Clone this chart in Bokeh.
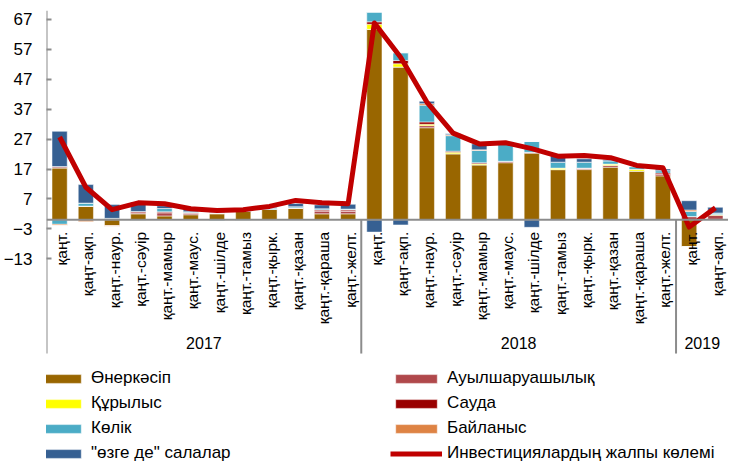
import math
from bokeh.plotting import figure
from bokeh.models import (ColumnDataSource, FactorRange, Range1d, FixedTicker, Span,
                          Legend, LegendItem)
from bokeh.core.properties import value
from bokeh.embed import file_html
from bokeh.resources import INLINE

# ---------------- data ----------------
years = ["2017", "2018", "2019"]
months_full = ["қаңт.", "қаңт-ақп.", "қаңт.-наур.", "қаңт.-сәуір", "қаңт.-мамыр",
               "қаңт.-маус.", "қаңт.-шілде", "қаңт.-тамыз", "қаңт.-қырк.",
               "қаңт.-қазан", "қаңт.-қараша", "қаңт.-желт."]
months_2019 = ["қаңт.", "қаңт-ақп."]

industry     = [17.3, 4.6, -1.9, 2.0, 1.3, 1.7, 2.0, 2.8, 3.5, 3.8, 2.0, 2.0,
                63.7, 51.1, 30.8, 22.1, 18.4, 19.1, 22.3, 16.8, 16.8, 17.6, 16.3, 14.7,
                -9.1, 0.2]
agriculture  = [0.5, 0.0, 0.0, 0.4, 1.1, 0.6, 0.3, 0.0, 0.0, 0.2, 1.0, 0.9,
                0.0, 0.0, 0.7, 0.0, 0.0, 0.5, 0.3, 0.0, 0.5, 0.6, 0.0, 0.5,
                1.1, 1.3]
construction = [0.0, 0.0, 0.0, 0.0, 0.0, 0.0, 0.0, 0.0, 0.0, 0.0, 0.0, 0.0,
                1.7, 1.1, 0.45, 0.5, 0.35, 0.0, 0.0, 0.5, 0.0, 0.45, 0.6, 0.0,
                0.0, 0.3]
trade        = [0.0, 0.0, 0.0, 0.4, 0.3, 0.1, 0.0, 0.0, 0.0, 0.0, 0.3, 0.4,
                0.8, 1.1, 0.8, 0.35, 0.35, 0.0, 0.0, 0.0, 0.0, 0.0, 0.0, 0.45,
                0.0, 0.0]
transport    = [-1.5, 1.0, 0.5, -0.3, 1.1, 0.3, -0.4, -0.3, 0.4, 0.4, 0.4, 0.3,
                3.3, 2.6, 5.6, 5.2, 4.1, 6.7, 3.6, 2.0, 2.0, 1.1, 0.9, 0.8,
                1.7, 0.5]
communication = [-0.4, -0.7, -0.3, 0.0, 0.0, 0.0, 0.0, 0.0, 0.0, 0.0, 0.0, 0.0,
                 0.0, 0.0, 0.5, 0.3, 0.2, 0.0, 0.0, 0.0, 0.0, 0.0, 0.0, 0.0,
                 0.5, 0.0]
other        = [11.8, 6.2, 4.6, 3.2, 0.9, 0.7, 0.2, 0.3, 0.3, 1.1, 1.3, 1.6,
                -4.1, -1.7, 0.8, 0.3, 2.0, 0.0, -2.5, 2.2, 1.1, 0.4, 0.0, 0.55,
                3.1, 1.9]
total        = [27.7, 10.9, 3.4, 5.7, 5.4, 3.7, 3.1, 3.4, 4.5, 6.5, 5.7, 5.4,
                65.8, 54.4, 39.4, 29.0, 25.4, 25.8, 23.8, 21.3, 21.5, 20.8, 18.2, 17.4,
                -2.4, 4.0]

series_names = ["Өнеркәсіп", "Ауылшаруашылық", "Құрылыс", "Сауда", "Көлік",
                "Байланыс", "\"өзге де\" салалар"]
line_name = "Инвестициялардың жалпы көлемі"
y_ticks = [-13, -3, 7, 17, 27, 37, 47, 57, 67]

# ---------------- styles ----------------
colors = ["#996600", "#B0484B", "#FFFF00", "#990000", "#4BACC6", "#DE8344", "#366092"]
LINE_COLOR = "#C00000"
AXIS_GRAY = "#8C8C8C"
FONT = "Liberation Sans"

factors = [(years[0], m) for m in months_full] + \
          [(years[1], m) for m in months_full] + \
          [(years[2], m) for m in months_2019]
group_sizes = [len(months_full), len(months_full), len(months_2019)]

all_series = [industry, agriculture, construction, trade, transport, communication, other]
data = {"x": factors, "total": total, "label": [f[1] for f in factors]}
pos_keys, neg_keys = [], []
for i, s in enumerate(all_series):
    data[f"p{i}"] = [max(v, 0.0) for v in s]
    data[f"n{i}"] = [min(v, 0.0) for v in s]
    pos_keys.append(f"p{i}")
    neg_keys.append(f"n{i}")
src = ColumnDataSource(data)

Y_TOP = 70
Y_BOTTOM = -81.8
AXIS_BOTTOM = -44.7
LABEL_Y = -4.0
YEAR_Y = -41.2

p = figure(width=728, height=464, output_backend="svg", toolbar_location=None,
           x_range=FactorRange(*factors, factor_padding=0, subgroup_padding=0,
                               group_padding=0, range_padding=0),
           y_range=Range1d(Y_BOTTOM, Y_TOP), x_axis_location=None,
           min_border_left=40, min_border_right=0, min_border_top=10, min_border_bottom=0)
p.outline_line_color = None
p.grid.visible = False
p.background_fill_color = "white"

yax = p.yaxis[0]
yax.ticker = FixedTicker(ticks=y_ticks)
yax.axis_line_color = None
yax.major_tick_in = 5
yax.major_tick_out = 0
yax.minor_tick_line_color = None
yax.major_tick_line_color = AXIS_GRAY
yax.major_tick_line_width = 2
yax.major_label_standoff = 14
yax.major_label_text_font = FONT
yax.major_label_text_font_size = "17px"
yax.major_label_text_color = "#000000"

pos_r = p.vbar_stack(pos_keys, x="x", width=0.58, color=colors, source=src,
                     line_color="white", line_alpha=0.5, line_width=1)
neg_r = p.vbar_stack(neg_keys, x="x", width=0.58, color=colors, source=src,
                     line_color="white", line_alpha=0.5, line_width=1)

# axis lines
p.segment(x0=[0], y0=[AXIS_BOTTOM], x1=[0], y1=[Y_TOP], line_color=AXIS_GRAY, line_width=2)
bounds = [sum(group_sizes[:k]) for k in range(1, len(group_sizes))]
p.segment(x0=bounds, y0=[0] * len(bounds), x1=bounds, y1=[AXIS_BOTTOM] * len(bounds),
          line_color=AXIS_GRAY, line_width=2)
p.add_layout(Span(location=0, dimension="width", line_color=AXIS_GRAY, line_width=2))

line_r = p.line(x="x", y="total", source=src, line_color=LINE_COLOR, line_width=5,
                line_join="round")

# category labels
p.text(x="x", y=LABEL_Y, text="label", source=src, angle=math.pi / 2,
       text_align="right", text_baseline="middle", text_font=value(FONT),
       text_font_size="15.5px", text_color="#000000", x_offset=2)
p.text(x=years, y=[YEAR_Y] * len(years), text=years, text_align="center",
       text_baseline="middle", text_font=value(FONT), text_font_size="16px",
       text_color="#000000")

# legends
def make_legend(items, loc):
    lg = Legend(items=items, location=loc, orientation="vertical",
                glyph_width=52, glyph_height=11, label_standoff=5, spacing=5,
                label_height=20, padding=0, margin=0,
                border_line_color=None, background_fill_alpha=0,
                label_text_font=FONT, label_text_font_size="17px",
                label_text_color="#000000")
    return lg

left_items = [LegendItem(label=series_names[i], renderers=[pos_r[i]]) for i in (0, 2, 4, 6)]
right_items = [LegendItem(label=series_names[i], renderers=[pos_r[i]]) for i in (1, 3, 5)]
right_items.append(LegendItem(label=line_name, renderers=[line_r]))
p.add_layout(make_legend(left_items, (-12, 1)))
p.add_layout(make_legend(right_items, (344, 1)))

open("out.html", "w").write(file_html(p, INLINE))
